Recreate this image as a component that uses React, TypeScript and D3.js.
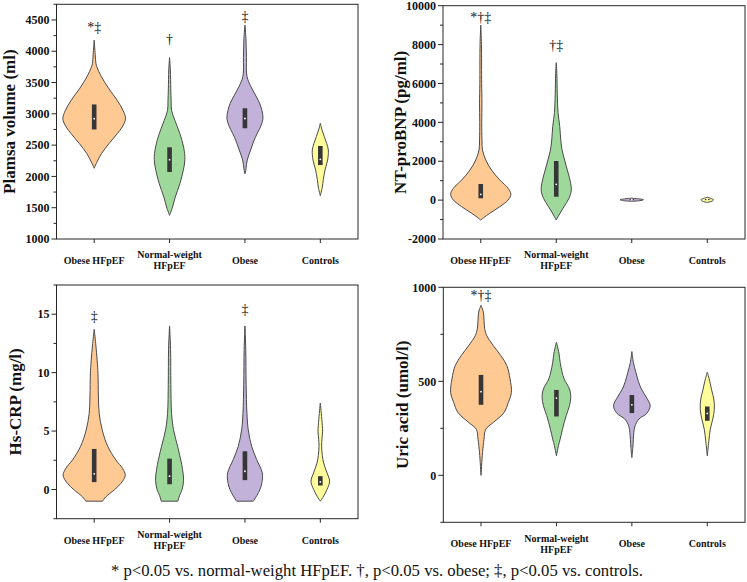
import React from "react";
import * as d3 from "d3";

const FONT = "'Liberation Serif','Times New Roman',Times,serif";

const categories = ["Obese HFpEF", "Normal-weight\nHFpEF", "Obese", "Controls"];
const colors = ["#FFC994", "#9ED99B", "#C2B2DA", "#FFFD9A"];

// violin profiles: [value, relative half-width]
const pvOrange = [[4180,0],[3950,1],[3800,1.8],[3750,2.7],[3590,7.3],[3400,14.7],[3216,23],[3056,28.7],[2923,31.3],[2790,28],[2683,23],[2523,14.7],[2364,7.3],[2204,2],[2130,0]];
const pvNormal = [[3898,0],[3700,0.8],[3400,1.2],[3200,1.6],[3056,2],[2896,5.3],[2683,10.3],[2470,14],[2268,15.3],[2097,13.7],[1884,10.3],[1671,5.7],[1511,3],[1378,0]];
const pvObese = [[4420,0],[4200,1],[3900,1.5],[3600,2],[3434,6],[3300,10.5],[3168,14.7],[3050,17],[2934,18],[2810,16],[2689,12.3],[2550,8.5],[2422,5.7],[2262,2.3],[2120,1],[2040,0]];
const pvControls = [[2850,0],[2742,1.7],[2635,4],[2529,6.3],[2422,8],[2262,7.3],[2103,4.7],[1950,3],[1831,2],[1690,0]];
const pvBox = [[2750,2923,3150],[2071,2268,2465],[2769,2925,3089],[2182,2273,2486]];

const bnpOrange = [[9000,0],[8000,0.7],[6000,0.9],[5000,1.2],[4000,1],[3093,1.2],[2578,1.7],[2064,5],[1549,10.7],[1035,19],[608,27.3],[300,30],[6,27.3],[-338,19],[-678,9],[-900,3],[-1023,0]];
const bnpNormal = [[7072,0],[6500,0.6],[5500,1],[4500,1.8],[3785,3.5],[3093,4.5],[2578,5.8],[2064,8.3],[1549,11],[1035,13.7],[521,15],[93,12.7],[-338,7.7],[-767,2.7],[-1023,0]];
const bnpObese = [[100,0],[60,8],[20,11.7],[-30,8],[-60,0]];
const bnpControls = [[150,0],[80,4],[20,6.3],[-50,5],[-120,0]];
const bnpBox = [[94,300,829],[176,812,2012],[10,30,50],[0,30,60]];

const crpOrange = [[13.7,0],[12.5,1.5],[11,3],[9.9,3.8],[8.0,4.2],[6.5,5],[5.1,8],[3.7,13.5],[2.52,21.7],[1.81,28.3],[1.2,31],[0.53,26.7],[-0.04,20],[-0.62,11.7],[-1,8.3]];
const crpNormal = [[14,0],[12,1],[9,1.3],[6.5,2],[5.1,4],[3.7,8],[2.6,11],[1.7,13],[0.8,14],[0,12.5],[-0.5,10],[-1,8.3]];
const crpObese = [[14,0],[12,0.8],[9,1.2],[6.5,2],[5.1,3.3],[3.69,6.7],[2.56,11.7],[1.42,17.3],[0.6,17],[0,15],[-0.5,12],[-1,8.3]];
const crpControls = [[7.4,0],[6.5,1],[5.5,2],[5,2.3],[4.3,1.6],[3.7,1.3],[2.9,2],[2.27,3.3],[1.42,6.7],[0.71,9.3],[0,6.7],[-0.57,3.3],[-1,0]];
const crpBox = [[0.63,1.34,3.47],[0.45,1.14,2.64],[0.8,1.56,3.27],[0.34,0.65,1.14]];

const uaOrange = [[904,0],[868,2.3],[779,3.7],[743,5.7],[690,12.3],[637,19.7],[584,25.7],[512,29],[441,30.3],[388,27.3],[334,23],[281,12.3],[245,4.7],[192,3],[120,1.5],[0,0]];
const uaNormal = [[708,0],[650,2.5],[601,3.7],[548,5.7],[512,7.7],[459,13],[415,14.3],[370,13],[317,9.7],[245,6],[192,3.7],[157,2],[103,0]];
const uaObese = [[658,0],[600,1.5],[548,4],[500,6.5],[459,9.5],[410,15],[370,18.3],[330,15],[299,7],[260,3],[228,2],[150,1],[94,0]];
const uaControls = [[548,0],[500,2.5],[450,4.5],[406,6.5],[350,7],[300,5.5],[245,3],[180,1.5],[103,0]];
const uaBox = [[375,445,534],[313,411,454],[331,375,427],[290,329,366]];

const pvTicks = [1000,1500,2000,2500,3000,3500,4000,4500];
const bnpTicks = [-2000,0,2000,4000,6000,8000,10000];
const crpTicks = [0,5,10,15];
const uaTicks = [0,500,1000];

// annotations: [category index, label, value level]
const pvNotes = [[0,"*‡",4307],[1,"†",4108],[2,"‡",4491]];
const bnpNotes = [[0,"*†‡",9162],[1,"†‡",7697]];
const crpNotes = [[0,"‡",14.46],[2,"‡",15.02]];
const uaNotes = [[0,"*†‡",930]];

const footnote = "* p<0.05 vs. normal-weight HFpEF. †, p<0.05 vs. obese; ‡, p<0.05 vs. controls.";

type PanelProps = {
  title: string;
  x0: number; x1: number; yTop: number; yBot: number;
  domain: [number, number];
  ticks: number[]; minorStep: number;
  profiles: number[][][];
  boxes: number[][];
  notes: (string | number)[][];
  titleX: number;
};

function Panel(p: PanelProps) {
  const x = d3.scaleBand<string>().domain(categories).range([p.x0, p.x1]);
  const y = d3.scaleLinear().domain(p.domain).range([p.yBot, p.yTop]);
  const w = d3.scaleLinear().domain([0, 31.3]).range([0, x.bandwidth() * 0.416]);
  const minors = d3.range(p.domain[0], p.domain[1] + 1e-9, p.minorStep).filter(
    (v) => !p.ticks.some((t) => Math.abs(t - v) < 1e-9)
  );
  const cx = (i: number) => (x(categories[i]) as number) + x.bandwidth() / 2;
  return (
    <g>
      {p.profiles.map((prof, i) => {
        const c = cx(i);
        const area = d3
          .area<number[]>()
          .y((d) => y(d[0]))
          .x0((d) => c - w(d[1]))
          .x1((d) => c + w(d[1]))
          .curve(d3.curveCatmullRom.alpha(0.5));
        const b = p.boxes[i];
        return (
          <g key={i}>
            <path d={area(prof) || ""} fill={colors[i]} stroke="#4a4a4a" strokeWidth={1} />
            <rect x={c - 2.3} width={4.6} y={y(b[2])} height={Math.max(1, y(b[0]) - y(b[2]))} fill="#363636" />
            <circle cx={c} cy={y(b[1])} r={0.9} fill="#ffffff" />
          </g>
        );
      })}
      <rect x={p.x0} y={p.yTop} width={p.x1 - p.x0} height={p.yBot - p.yTop} fill="none" stroke="#262626" strokeWidth={1} />
      {p.ticks.map((t) => (
        <g key={"t" + t}>
          <line x1={p.x0 - 5} x2={p.x0} y1={y(t)} y2={y(t)} stroke="#262626" />
          <text x={p.x0 - 7} y={y(t)} dy="0.35em" textAnchor="end" fontFamily={FONT} fontWeight="bold" fontSize={12} fill="#111">
            {t}
          </text>
        </g>
      ))}
      {minors.map((t) => (
        <line key={"m" + t} x1={p.x0 - 3} x2={p.x0} y1={y(t)} y2={y(t)} stroke="#262626" />
      ))}
      {categories.map((c, i) => {
        const lines = c.split("\n");
        return (
          <g key={"c" + i}>
            <line x1={cx(i)} x2={cx(i)} y1={p.yBot} y2={p.yBot + 4} stroke="#262626" />
            {lines.map((l, j) => (
              <text key={j} x={cx(i)} y={p.yBot + (lines.length === 1 ? 25 : 19.3 + j * 11)} textAnchor="middle" fontFamily={FONT} fontWeight="bold" fontSize={10} fill="#111">
                {l}
              </text>
            ))}
          </g>
        );
      })}
      {p.notes.map((n, k) => (
        <text key={"n" + k} x={cx(n[0] as number)} y={y(n[2] as number)} textAnchor="middle" fontFamily={FONT} fontSize={14} fill="#111">
          {n[1]}
        </text>
      ))}
      <text
        transform={`translate(${p.titleX},${(p.yTop + p.yBot) / 2}) rotate(-90)`}
        textAnchor="middle"
        fontFamily={FONT}
        fontWeight="bold"
        fontSize={17}
        fill="#111"
      >
        {p.title}
      </text>
    </g>
  );
}

export default function App() {
  return (
    <svg width={747} height={582} style={{ position: "absolute", left: 0, top: 0, background: "#fff" }}>
      <rect width={747} height={582} fill="#fff" />
      <Panel title="Plamsa volume (ml)" x0={56.5} x1={358} yTop={4.3} yBot={239} domain={[1000, 4750]} ticks={pvTicks} minorStep={250}
        profiles={[pvOrange, pvNormal, pvObese, pvControls]} boxes={pvBox} notes={pvNotes} titleX={15} />
      <Panel title="NT-proBNP (pg/ml)" x0={443} x1={745} yTop={5.7} yBot={239} domain={[-2000, 10000]} ticks={bnpTicks} minorStep={1000}
        profiles={[bnpOrange, bnpNormal, bnpObese, bnpControls]} boxes={bnpBox} notes={bnpNotes} titleX={406} />
      <Panel title="Hs-CRP (mg/l)" x0={56.5} x1={358} yTop={285} yBot={518.7} domain={[-2.5, 17.5]} ticks={crpTicks} minorStep={2.5}
        profiles={[crpOrange, crpNormal, crpObese, crpControls]} boxes={crpBox} notes={crpNotes} titleX={21} />
      <Panel title="Uric acid (umol/l)" x0={443.3} x1={745} yTop={287.3} yBot={522.3} domain={[-250, 1000]} ticks={uaTicks} minorStep={250}
        profiles={[uaOrange, uaNormal, uaObese, uaControls]} boxes={uaBox} notes={uaNotes} titleX={408} />
      <text x={377} y={576} textAnchor="middle" fontFamily={FONT} fontSize={16} textLength={532} lengthAdjust="spacingAndGlyphs" fill="#111">
        {footnote}
      </text>
    </svg>
  );
}
